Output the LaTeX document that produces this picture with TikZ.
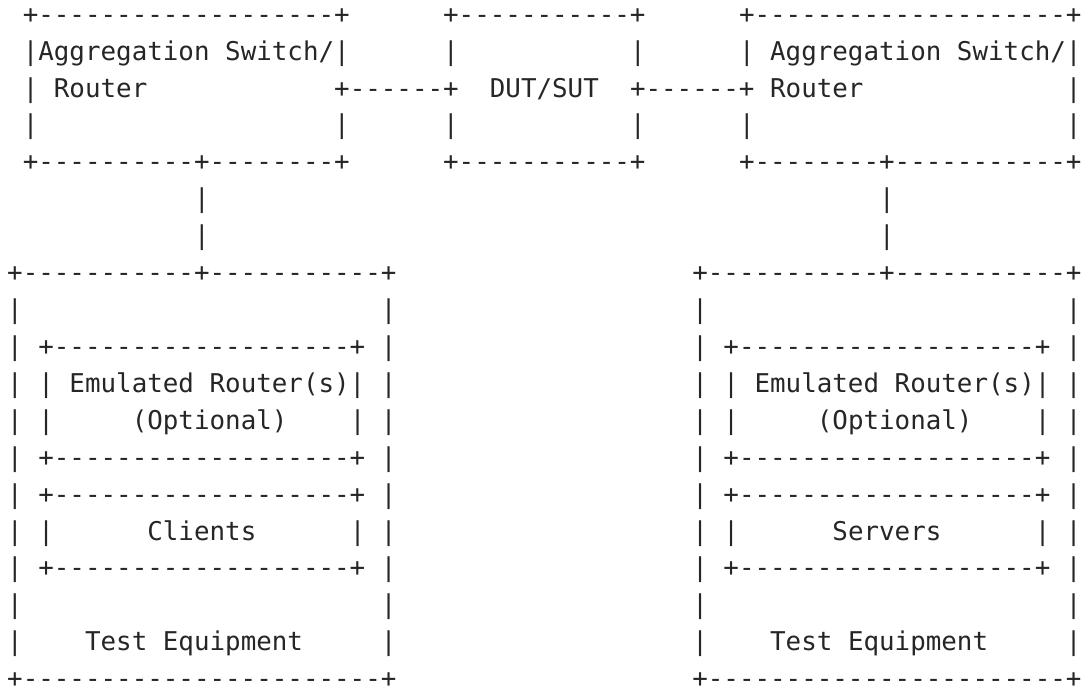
\documentclass[tikz,border=0pt]{standalone}
\usepackage{fontspec}
\setmonofont{DejaVu Sans Mono}
\definecolor{ink}{RGB}{38,38,38}
\newcommand\rep[1]{\ifnum#1>0 -\expandafter\rep\expandafter{\the\numexpr#1-1\relax}\fi}
\newcommand\putseg[4]{\node[txt] (#1) at ({7.215+15.57*#2},{664.8-36.92*#3}) {#4};}
\tikzset{txt/.style={anchor=base west, inner sep=0pt, outer sep=0pt, text=ink,
  font=\ttfamily\fontsize{25.86}{30}\selectfont}}
\begin{document}
\begin{tikzpicture}[x=1pt,y=1pt]
\fill[white] (0,0) rectangle (1084,688);
\useasboundingbox (0,0) rectangle (1084,688);
% row 0
\putseg{r0a}{1}{0}{+\rep{19}+}
\putseg{r0b}{28}{0}{+\rep{11}+}
\putseg{r0c}{47}{0}{+\rep{20}+}
% row 1
\putseg{r1a}{1}{1}{|Aggregation}
\putseg{r1b}{14}{1}{Switch/|}
\putseg{r1c}{28}{1}{|}
\putseg{r1d}{40}{1}{|}
\putseg{r1e}{47}{1}{|}
\putseg{r1f}{49}{1}{Aggregation}
\putseg{r1g}{61}{1}{Switch/|}
% row 2
\putseg{r2a}{1}{2}{|}
\putseg{r2b}{3}{2}{Router}
\putseg{r2c}{21}{2}{+\rep{6}+}
\putseg{r2d}{31}{2}{DUT/SUT}
\putseg{r2e}{40}{2}{+\rep{6}+}
\putseg{r2f}{49}{2}{Router}
\putseg{r2g}{68}{2}{|}
% row 3
\putseg{r3a}{1}{3}{|}
\putseg{r3b}{21}{3}{|}
\putseg{r3c}{28}{3}{|}
\putseg{r3d}{40}{3}{|}
\putseg{r3e}{47}{3}{|}
\putseg{r3f}{68}{3}{|}
% row 4
\putseg{r4a}{1}{4}{+\rep{10}+\rep{8}+}
\putseg{r4b}{28}{4}{+\rep{11}+}
\putseg{r4c}{47}{4}{+\rep{8}+\rep{11}+}
% rows 5-6
\putseg{r5a}{12}{5}{|}
\putseg{r5b}{56}{5}{|}
\putseg{r6a}{12}{6}{|}
\putseg{r6b}{56}{6}{|}
% row 7
\putseg{r7a}{0}{7}{+\rep{11}+\rep{11}+}
\putseg{r7b}{44}{7}{+\rep{11}+\rep{11}+}
% row 8
\putseg{r8a}{0}{8}{|}
\putseg{r8b}{24}{8}{|}
\putseg{r8c}{44}{8}{|}
\putseg{r8d}{68}{8}{|}
% row 9
\putseg{r9a}{0}{9}{|}
\putseg{r9b}{2}{9}{+\rep{19}+}
\putseg{r9c}{24}{9}{|}
\putseg{r9d}{44}{9}{|}
\putseg{r9e}{46}{9}{+\rep{19}+}
\putseg{r9f}{68}{9}{|}
% row 10
\putseg{r10a}{0}{10}{|}
\putseg{r10b}{2}{10}{|}
\putseg{r10c}{4}{10}{Emulated}
\putseg{r10d}{13}{10}{Router(s)|}
\putseg{r10e}{24}{10}{|}
\putseg{r10f}{44}{10}{|}
\putseg{r10g}{46}{10}{|}
\putseg{r10h}{48}{10}{Emulated}
\putseg{r10i}{57}{10}{Router(s)|}
\putseg{r10j}{68}{10}{|}
% row 11
\putseg{r11a}{0}{11}{|}
\putseg{r11b}{2}{11}{|}
\putseg{r11c}{8}{11}{(Optional)}
\putseg{r11d}{22}{11}{|}
\putseg{r11e}{24}{11}{|}
\putseg{r11f}{44}{11}{|}
\putseg{r11g}{46}{11}{|}
\putseg{r11h}{52}{11}{(Optional)}
\putseg{r11i}{66}{11}{|}
\putseg{r11j}{68}{11}{|}
% rows 12-13
\putseg{r12a}{0}{12}{|}
\putseg{r12b}{2}{12}{+\rep{19}+}
\putseg{r12c}{24}{12}{|}
\putseg{r12d}{44}{12}{|}
\putseg{r12e}{46}{12}{+\rep{19}+}
\putseg{r12f}{68}{12}{|}
\putseg{r13a}{0}{13}{|}
\putseg{r13b}{2}{13}{+\rep{19}+}
\putseg{r13c}{24}{13}{|}
\putseg{r13d}{44}{13}{|}
\putseg{r13e}{46}{13}{+\rep{19}+}
\putseg{r13f}{68}{13}{|}
% row 14
\putseg{r14a}{0}{14}{|}
\putseg{r14b}{2}{14}{|}
\putseg{r14c}{9}{14}{Clients}
\putseg{r14d}{22}{14}{|}
\putseg{r14e}{24}{14}{|}
\putseg{r14f}{44}{14}{|}
\putseg{r14g}{46}{14}{|}
\putseg{r14h}{53}{14}{Servers}
\putseg{r14i}{66}{14}{|}
\putseg{r14j}{68}{14}{|}
% row 15
\putseg{r15a}{0}{15}{|}
\putseg{r15b}{2}{15}{+\rep{19}+}
\putseg{r15c}{24}{15}{|}
\putseg{r15d}{44}{15}{|}
\putseg{r15e}{46}{15}{+\rep{19}+}
\putseg{r15f}{68}{15}{|}
% row 16
\putseg{r16a}{0}{16}{|}
\putseg{r16b}{24}{16}{|}
\putseg{r16c}{44}{16}{|}
\putseg{r16d}{68}{16}{|}
% row 17
\putseg{r17a}{0}{17}{|}
\putseg{r17b}{5}{17}{Test}
\putseg{r17c}{10}{17}{Equipment}
\putseg{r17d}{24}{17}{|}
\putseg{r17e}{44}{17}{|}
\putseg{r17f}{49}{17}{Test}
\putseg{r17g}{54}{17}{Equipment}
\putseg{r17h}{68}{17}{|}
% row 18
\putseg{r18a}{0}{18}{+\rep{23}+}
\putseg{r18b}{44}{18}{+\rep{23}+}
\end{tikzpicture}
\end{document}
